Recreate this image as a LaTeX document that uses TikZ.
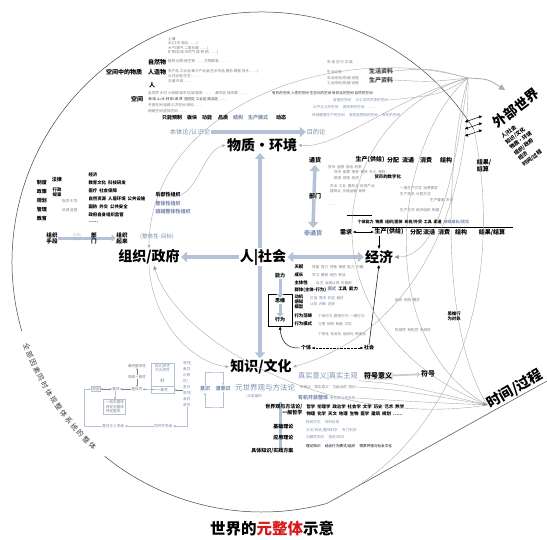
\documentclass[tikz,border=0pt]{standalone}
\usepackage{fontspec}
\setmainfont{Noto Sans CJK SC}
\newfontfamily\dejavu{DejaVu Sans}
\usetikzlibrary{arrows.meta,decorations.text,calc}
\definecolor{bg}{RGB}{125,142,178}
\definecolor{la}{RGB}{180,194,216}
\definecolor{tg}{RGB}{125,125,135}
\definecolor{redt}{RGB}{215,25,25}
\begin{document}
\begin{tikzpicture}[x=1pt,y=1pt]
\tikzset{
 big/.style={font=\fontsize{14}{15}\selectfont\bfseries, inner sep=1pt},
 lb/.style={font=\fontsize{6}{7}\selectfont\bfseries, inner sep=0.5pt},
 lbs/.style={font=\fontsize{5}{6}\selectfont\bfseries, inner sep=0.4pt},
 lbx/.style={font=\fontsize{4.4}{5.2}\selectfont\bfseries, inner sep=0.3pt, anchor=west},
 bgt/.style={text=bg},
 tinyt/.style={font=\fontsize{3.6}{4.4}\selectfont, text=tg, inner sep=0pt, anchor=west},
 tinyb/.style={tinyt, text=bg},
 fat/.style={draw=la, line width=4.5pt, -{Triangle[length=6pt,width=10pt]}},
 fatb/.style={draw=la, line width=4.5pt, {Triangle[length=6pt,width=10pt]}-{Triangle[length=6pt,width=10pt]}},
 fats/.style={draw=la, line width=3pt, -{Triangle[length=4pt,width=7pt]}},
 mer/.style={draw=gray!65, line width=0.4pt},
 outerc/.style={draw=gray!55!black, line width=0.5pt},
 tipk/.style={-{Latex[length=3.5pt,width=3pt]}},
 tipg/.style={-{Latex[length=4.5pt,width=4pt,color=bg]}},
 dbl/.style={line width=0.4pt,{Latex[length=3pt,width=2.5pt]}-{Latex[length=3pt,width=2.5pt]}},
}
\useasboundingbox (0,0) rectangle (547,-539);
\fill[white] (0,0) rectangle (547,-539);

% ---------- outer circle with text ----------
\coordinate (C) at (262,-262);
\draw[outerc] ($(C)+(32:250)$) coordinate (oa) arc[start angle=32,end angle=196,radius=250];
\path[decorate, decoration={text along path, text align=center, raise=-2.5pt,
  text={|\fontsize{7}{8}\selectfont\color{gray!45!black}|全 部 因 素 同 时 体 现 整 体 系 统 的 整 体}}]
  ($(C)+(196:250)$) arc[start angle=196,end angle=231,radius=250];
\draw[outerc] ($(C)+(231:250)$) arc[start angle=231,end angle=285,radius=250] coordinate (ob);
\coordinate (oc) at (547,-381);
\draw[outerc] (ob) -- (oc);

% ---------- main nodes ----------
\node[big] (wz) at (262,-145) {物质·环境};
\node[big] (rs) at (263,-257) {人|社会};
\node[big] (zz) at (149,-257) {组织/政府};
\node[big] (jj) at (379,-257) {经济};
\node[big] (zs) at (261,-367) {知识/文化};
\node[big, rotate=37, font=\fontsize{13.5}{14}\selectfont\bfseries] (wb) at (516,-108) {外部世界};
\node[rotate=37, anchor=north west, align=left, inner sep=0pt,
      font=\fontsize{5.2}{7}\selectfont\bfseries] (wbl) at (500,-135)
      {人|社会\\知识/文化\\物质·环境\\组织/政府\\经济\\时间/过程};
\node[big, rotate=30] (sj) at (515,-389) {时间/过程};
\node[font=\fontsize{15.5}{16}\selectfont\bfseries] (title) at (272,-529)
      {世界的\textcolor{redt}{元整体}示意};

% ---------- thick arrows ----------
\draw[fat] ([xshift=-3pt]rs.north) -- ([xshift=-2pt]wz.south);
\draw[fat] ([xshift=-3pt]rs.south) -- ([xshift=-1pt]zs.north);
\draw[fatb] (rs.east) -- (jj.west);
\draw[fat] (rs.west) -- (zz.east);

% ---------- ontology arrow ----------
\node[lbs, bgt, font=\fontsize{6.3}{7}\selectfont] (btl) at (190,-132) {本体论/认识论};
\node[lbs, bgt, font=\fontsize{6.3}{7}\selectfont] (mdl) at (316,-132) {目的论};
\draw[fat] (btl) -- (mdl);

% ---------- top: matter in space ----------
\node[lb] (kjwz) at (124,-72) {空间中的物质};
\node[lb] (zrw) at (157,-62) {自然物};
\node[lb] (rzw) at (157,-72) {人造物};
\node[lb] (ren) at (152,-85) {人};
\node[lb] (kj) at (137,-99) {空间};
\node[tinyt] (t1) at (168,-39) {土壤};
\node[tinyt] (t2) at (168,-43.5) {水(江河 湖泊 ……)};
\node[tinyt] (t3) at (168,-48) {大气(氧气 二氧化碳 ……)};
\node[tinyt] (t4) at (168,-52.5) {矿物(石油 天然气 煤 铁 铜 ……)};
\node[tinyt] (t5) at (168,-61) {植物 动物 微生物 …… 生物群落 ……};
\node[tinyt] (t7) at (168,-71) {农产品 工业品 第三产业品(艺术作品 服务 数据 技术 ……)};
\node[tinyt] (t8) at (168,-76) {公共设施 住宅 ……};
\node[tinyt] (t9) at (168,-81) {交通 市政 ……};
\node[tinyt] (t10) at (148,-93) {自然界 乡村 小城镇 城市 区域 国家 …… \quad 都市区 城市群 ……};
\node[tinyt, text=black!80] (t11) at (148,-99) {海 陆 山 水 林 田 湖 草 \ 居住区 工业区 商业区 ……};
\node[tinyt] (t12) at (148,-105) {开放空间 道路 公共空间 绿地 ……};
\node[tinyt] (t13) at (148,-111) {网络空间 虚拟空间 ……};
\node[tinyt] (s1) at (327,-62) {衣 食 住 行 文 娱};
\node[tinyt] (s2) at (327,-72) {生活设施};
\node[tinyt] (s3) at (327,-78) {农业用地/机械/设施};
\node[tinyt] (s4) at (327,-83) {工业用地/机械/设施};
\node[lb, text=black!75] (shzl) at (381,-71) {生活资料};
\node[lb, text=black!75] (sczl) at (381,-80) {生产资料};
\node[tinyt, text=black!80] (r1) at (272,-93) {有机的空间 人性的空间 生态化的空间 有机化的空间 自然的空间};
\node[tinyb] (r2) at (333,-100) {宜居的空间 \quad 分工协同共享的空间};
\node[tinyb] (r3) at (313,-107) {公平正义的空间 \quad 高效率的空间 \quad ……};
\node[tinyb] (r4) at (312,-115) {持续健康生产的空间 \quad 高性能感知的空间 \quad 有机的空间};
\node[lbs] (q1) at (172,-118) {只能预制};
\node[lbs] (q2) at (192,-118) {板块};
\node[lbs] (q3) at (207,-118) {功能};
\node[lbs] (q4) at (223,-118) {品质};
\node[lbs, bgt] (q5) at (238,-118) {结构};
\node[lbs, bgt] (q6) at (258,-118) {生产模式};
\node[lbs] (q7) at (281,-118) {动态};

% ---------- left: organisation ----------
\node[lbs] (zd) at (42,-183) {制度};
\node[lbs] (fl) at (57,-180) {法律};
\node[lbs, align=center, font=\fontsize{4.4}{4.8}\selectfont\bfseries] (xzgz) at (57,-192) {行政\\规章};
\node[lbs] (zc) at (42,-192) {政策};
\node[lbs] (gh) at (42,-201) {规划};
\node[lbs] (gl) at (42,-210) {管理};
\node[lbs] (jy) at (42,-219) {教育};
\node[tinyt] (zc2) at (62,-201) {指导 引导};
\node[tinyt] (gl2) at (62,-210) {协调 监督};
\node[lbx] (c1) at (88,-175) {经济};
\node[lbx] (c2) at (88,-183) {教育文化 \ 科技研发};
\node[lbx] (c3) at (88,-191) {医疗 \ 社会保障};
\node[lbx] (c4) at (88,-199) {自然资源 \ 人居环境 \ 公共设施};
\node[lbx] (c5) at (88,-207) {国防 \ 外交 \ 公共安全};
\node[lbx] (c6) at (88,-215) {政府自身组织监管};
\node[lbx] (c7) at (88,-222) {……};
\node[lbs, anchor=west] (jbzz) at (155,-195) {局部性组织};
\node[lbs, anchor=west, bgt] (ztzz) at (155,-204) {整体性组织};
\node[lbs, anchor=west, bgt] (cyzz) at (155,-212) {超越整体性组织};
\node[lb, align=center, font=\fontsize{5.6}{6.2}\selectfont\bfseries] (zzsd) at (52,-238) {组织\\手段};
\node[lb, align=center, font=\fontsize{5.6}{6.2}\selectfont\bfseries] (zzql) at (122,-238) {组织\\起来};
\draw[fats] (zzsd) -- (zzql);
\node[tinyt, anchor=center, align=center, text=gray!55] (qtsh) at (77,-237) {全体|\\社会};
\node[lb, align=center, font=\fontsize{5.6}{6.2}\selectfont\bfseries] (bm1) at (94,-238) {部\\门};
\node[lbs, bgt, font=\fontsize{5.6}{6.4}\selectfont] (ztmb) at (157,-237) {(整体性-目标)};

% ---------- economy ----------
\coordinate (thc) at (315,-160);
\coordinate (fthc) at (313,-233);
\draw[fatb, line width=3.5pt] ([yshift=-5pt]thc) -- ([yshift=5pt]fthc);
\node[lb] (th) at (thc) {通货};
\node[lb, bgt] (fth) at (fthc) {非通货};
\node[lb, fill=white, inner sep=0.3pt] (bm2) at (315,-196) {部门};
\node[lb] (sc1) at (370,-160) {生产(供给)};
\node[lb] (fp1) at (393,-160) {分配};
\node[lb] (lt1) at (408,-160) {流通};
\node[lb] (xf1) at (426,-160) {消费};
\node[lb] (jg1) at (446,-160) {结构};
\node[lb, align=left] (js1) at (484,-166) {结果/\\结算};
\node[tinyt] (e1) at (328,-167) {货币 \ 金融 \ 信用 \ 利率};
\node[tinyt] (e2) at (334,-172) {货币 \ 股票 \ 债券 \ 期货 \ 外汇 \ 保险};
\node[tinyt] (e3) at (334,-178) {税收 \ 财政 \ 投资};
\node[lbx] (hbsz) at (374,-177) {货币的数字化};
\node[tinyt] (e4) at (330,-186) {农业 \ 工业 \ 服务业 \ 信息产业};
\node[tinyt] (e5) at (330,-191) {建筑业 \ 交通运输 \ 商贸};
\node[tinyt] (e6) at (330,-205) {……};
\node[tinyt] (e7) at (400,-188) {一般生产方式 \ 消费需求};
\node[tinyt] (e8) at (400,-194) {生产关系 \ 分配方式};
\node[tinyt] (e9) at (430,-200) {生产要素 \ 市场};
\node[tinyt] (e10) at (400,-210) {生产方式 \ 经济组织 \ 制度};
\node[lbx, font=\fontsize{4}{5}\selectfont\bfseries] (rowa) at (357,-222) {个体能力 \ 物质 \ 组织/团体 \ 商务/外贸 \ 工具 \ 渠道 \ \textcolor{bg}{持续成长/优化}};
\draw[line width=0.6pt] (372,-227) -- (513,-227);
\draw[line width=0.5pt] (347,-215) -- (372,-215);
\node[lb] (xq) at (346,-232) {需求};
\node[lb] (sc2) at (389,-232) {生产(供给)};
\node[lb] (fp2) at (416,-232) {分配};
\node[lb] (lt2) at (429,-232) {流通};
\node[lb] (xf2) at (444,-232) {消费};
\node[lb] (jg2) at (461,-232) {结构};
\node[lb] (js2) at (492,-232) {结果/结算};
\draw[dbl] (xq) -- (sc2);
\draw[tipk, line width=0.5pt] ([xshift=-10pt]sc2.south) -- (jj.north);

% ---------- person / society ----------
\node[lbs] (nl) at (280,-276) {能力};
\node[draw, line width=0.5pt, minimum width=24pt, minimum height=32pt, inner sep=0pt] (swbox) at (280,-310) {};
\node[lbs] (sw) at (280,-301) {思维};
\node[lbs] (xw) at (280,-320) {行为};
\draw[fats] (nl) -- (sw);
\draw[fats] (sw) -- (xw);
\node[lbx] (p1) at (294,-267) {天赋};
\node[lbx] (p2) at (294,-275) {成长};
\node[lbx] (p3) at (294,-283) {主体性};
\node[lbx] (p4) at (294,-290) {群体(主体-行为)};
\node[lbx] (p5) at (294,-297) {动机};
\node[lbx] (p6) at (294,-302) {感知};
\node[lbx] (p7) at (294,-307) {模型};
\node[lbx] (p8) at (294,-316) {行为范畴};
\node[lbx] (p9) at (294,-324) {行为模式};
\node[tinyt] (pt1) at (312,-267) {体能 \ 智力 \ 性格 \ 情感 \ 能力 \ 兴趣};
\node[tinyt] (pt2) at (312,-275) {学习 \ 教育 \ 经历 \ 职业};
\node[tinyt] (pt3) at (316,-283) {自主 \ 自我认同 \ 价值观};
\node[lbx] (ms1) at (327,-289) {\textcolor{bg}{模式} \ 工具 \ 能力};
\node[tinyb] (pt5) at (310,-298) {价值 \ 需求 \ 利益 \ 偏好};
\node[tinyb] (pt6) at (310,-304) {认知 \ 判断 \ 选择};
\node[tinyt] (pt8) at (318,-316) {个体行为 \ 群体行为 \ 一致行为};
\node[tinyt] (pt9) at (318,-324) {习惯 \ 规则 \ 制度 \ 文化};
\node[tinyt] (pt10) at (318,-334) {个体化 \ 社会化 \ 组织化 \ 制度化};
\node[lbx, align=left] (sw2) at (447,-316) {思维行\\为对象};
\node[tinyt] (sw3) at (395,-300) {组织 \ 规则 \ 模式};
\node[tinyt] (sw4) at (395,-330) {机械性 \ 有机性 \ 系统性};
\node[lbs] (gt) at (306,-348) {个体};
\node[lbs] (sh2) at (369,-348) {社会};
\draw[dbl, densely dotted] (gt) -- (sh2);
\draw[tipk, line width=0.5pt] (sh2.north) -- (jj.south);
\draw[tipk, line width=0.45pt] (gt.west) .. controls (286,-349) and (281,-340) .. (swbox.south);

% ---------- knowledge ----------
\node[lb, bgt, font=\fontsize{7.2}{8}\selectfont] (zsyy) at (328,-376) {真实意义|真实主观};
\node[lb, fill=gray!22, font=\fontsize{7}{8}\selectfont\bfseries] (fhyy) at (378,-376) {符号意义};
\node[lb, font=\fontsize{7}{8}\selectfont\bfseries] (fh) at (428,-374) {符号};
\draw[draw=gray!40, line width=1.8pt, -{Triangle[length=3pt,width=5pt]}] (fhyy) -- (fh);
\node[lb, bgt, font=\fontsize{7.5}{8}\selectfont] (ysj) at (265,-388) {元世界观与方法论};
\node[lbs, bgt] (yishi) at (205,-389) {意识};
\node[lbs, bgt] (qyishi) at (223,-389) {潜意识};
\draw[draw=la, line width=0.6pt, -{Latex[length=3pt]}] (yishi.north) |- (216,-372) -| (qyishi.north);
\draw[draw=la, line width=0.6pt, -{Latex[length=3pt]}] (qyishi.south) |- (216,-407) -| (yishi.south);
\node[tinyb] (ycm) at (246,-396) {/元层面的};
\node[lbs, bgt] (ykf) at (313,-398) {有机开放整体};
\node[tinyb] (ykf2) at (330,-398) {有机体与环境的};
\node[tinyt] (zk1) at (300,-387) {所有以“真实意义”为起点的 \ 知识};
\draw[draw=la, line width=3pt] (280,-402) -- (280,-450);
\node[lbs, anchor=east, align=right] (sjg) at (303,-410) {世界观与方法论/\\一般哲学};
\node[lbs, anchor=east] (jcll) at (294,-427) {基础理论};
\node[lbs, anchor=east] (yyll) at (294,-438) {应用理论};
\node[lbs, anchor=east] (jtzs) at (294,-451) {具体知识/实践方案};
\node[lbx] (d1) at (306,-407) {哲学 \ 伦理学 \ 政治学 \ 社会学 \ 文学 \ 历史 \ 艺术 \ 数学};
\node[lbx] (d2) at (306,-414) {物理 \ 化学 \ 天文 \ 地理 \ 生物 \ 医学 \ 建筑 \ 规划 \ ……};
\node[tinyb] (d3) at (306,-422) {传统文化 \quad 现代科技};
\node[tinyb] (d4) at (306,-430) {交叉/综合/整体科学 \quad 专门科学};
\node[tinyb] (d5) at (306,-437) {问题性知识 \quad 规范/知识};
\node[tinyt, text=black] (d6) at (306,-446) {理论知识 \quad 结合行为模式/组织 \quad 物质环境与社会文化};

% ---------- left bottom chart ----------
\node[draw=la, line width=0.6pt, minimum width=23pt, minimum height=30pt, inner sep=0pt] (bx1) at (162.5,-378) {};
\node[tinyb, anchor=center, align=center] (bx1a) at (162.5,-368) {真实|原性\\先天原性};
\node[tinyt, anchor=center, font=\fontsize{4.5}{5}\selectfont] (hao) at (162.5,-381) {好};
\draw[draw=la, line width=0.5pt] (bx1.west |- 0,-386) -- (bx1.east |- 0,-386);
\node[tinyt, anchor=center] (yzx) at (162.5,-390) {一致性};
\node[tinyt, anchor=center] (zzx) at (137,-366) {最终整体性};
\node[tinyt, anchor=center] (jbyz) at (137,-377) {局部一致性};
\node[tinyt, anchor=center] (ztx) at (137,-389) {整体性};
\node[tinyt, anchor=center] (zt) at (116,-389) {整体};
\node[tinyt, anchor=center, draw=la, inner sep=0.8pt] (jb) at (96,-389) {局部};
\draw[draw=tg, line width=0.35pt, -{Latex[length=2pt]}] (jbyz) -- (zzx);
\draw[draw=tg, line width=0.35pt, -{Latex[length=2pt]}] (jbyz) -- (ztx);
\draw[draw=tg, line width=0.35pt, -{Latex[length=2pt]}] (ztx) -- (zt);
\draw[draw=tg, line width=0.35pt, -{Latex[length=2pt]}] (yzx) -- (ztx);
\draw[draw=tg, line width=0.35pt, {Latex[length=2pt]}-{Latex[length=2pt]}] (jb) -- (zt);
\node[draw=la, line width=0.5pt, tinyt, anchor=center, align=left, inner sep=1.2pt] (bx2) at (114,-407) {- 一般无整体\\- 特定无整体\\- 特定整体};
\draw[draw=tg, line width=0.35pt, -{Latex[length=2pt]}] (zt) -- (bx2);
\node[tinyb, anchor=north west, align=left, font=\fontsize{3.6}{6}\selectfont] (col) at (183,-361) {原性|\\差异\\识原\\性/\\意识\\原性|\\差异\\原性};
\draw[draw=tg, line width=0.35pt, -{Latex[length=2pt]}] (col.west |- yzx) -- (bx1.east |- yzx);
\node[tinyb, anchor=center] (ztzy) at (115,-426) {整体主义思维 {\dejavu ◄}};
\node[tinyb, anchor=center] (tsx) at (165,-426) {同时性思维 {\dejavu ◄}};
\draw[draw=la, line width=0.5pt] (col.south) |- (tsx.east);
\draw[draw=la, line width=0.5pt] (tsx.west) -- (ztzy.east);
\draw[draw=la, line width=0.5pt, -{Latex[length=2pt]}] (ztzy.west) -| (84,-389) -- (jb.west);

% ---------- thin curves / meridians ----------
\coordinate (P1) at (468,-78);
\coordinate (wbt) at (505,-90);
\draw[draw=la!70!gray, line width=0.8pt, -{Triangle[length=6pt,width=6pt]}] (P1) .. controls (488,-79) .. (wbt);
\draw[mer] (shzl.east) .. controls (430,-68) .. (P1);
\draw[mer] (sczl.east) .. controls (430,-82) .. (P1);
\draw[mer] (r2.east) .. controls (440,-95) .. (P1);
\draw[mer,tipk] (P1) .. controls (330,-40) and (150,-110) .. (zz.north);
\draw[mer,tipk] (P1) .. controls (400,-95) and (335,-150) .. (wz.east);
\draw[mer,tipk] (jbzz.east) .. controls (200,-185) and (205,-150) .. (wz.west);
\draw[mer,tipk] (zz.south) .. controls (152,-320) and (190,-362) .. (zs.west);
\draw[mer,{Latex[length=4pt,width=3.5pt,color=bg]}-] ([xshift=5pt]zz.south) .. controls (175,-340) and (330,-430) .. (sj.west);
\draw[mer,tipk] (P1) .. controls (470,-200) and (420,-330) .. (zs.east);
\draw[mer,tipg] (P1) .. controls (455,-170) and (440,-257) .. (jj.east);
\draw[mer] (P1) .. controls (320,-120) and (300,-330) .. (sj.west);
\draw[mer] (P1) .. controls (395,-140) and (370,-340) .. (sj.west);
\draw[mer] (P1) .. controls (445,-160) and (440,-330) .. (sj.west);
\draw[mer] (oa) .. controls (505,-280) and (460,-440) .. (ob);
\draw[mer] (zk1.east) .. controls (400,-390) .. (sj.west);
\draw[mer] (ykf2.east) .. controls (420,-402) .. (sj.west);
\draw[mer,tipg] (zsyy.south east) .. controls (400,-384) .. (sj.west);

% ---------- outer-world arrow bundle ----------
\foreach \i/\dy in {a/0,b/7,c/14}{
  \coordinate (ba\i) at (465,{-122-\dy});
  \coordinate (bb\i) at (482,{-116-\dy});
  \draw[line width=0.5pt, {Triangle[length=3pt,width=3pt]}-{Triangle[length=3pt,width=3pt]}] (ba\i) -- (bb\i);
}
\end{tikzpicture}
\end{document}
